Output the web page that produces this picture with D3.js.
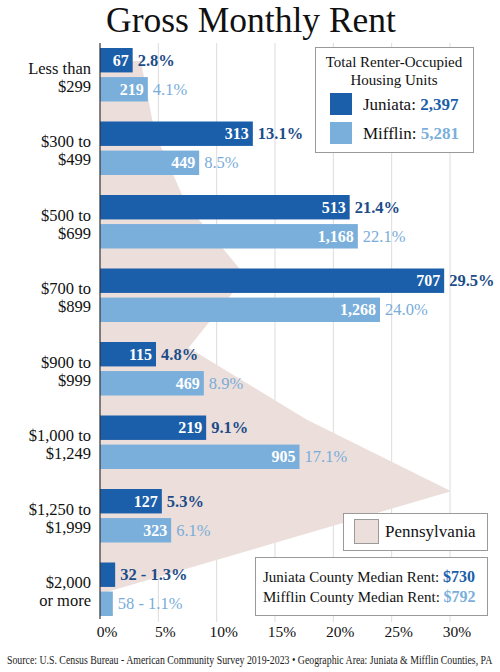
<!DOCTYPE html>
<html>
<head>
<meta charset="utf-8">
<script src="https://cdn.jsdelivr.net/npm/d3@7"></script>
<style>
  html, body { margin: 0; padding: 0; background: #fff; }
  svg { display: block; }
  text { font-family: "Liberation Serif", "DejaVu Serif", serif; }
</style>
</head>
<body>
<svg id="chart" width="500" height="672"></svg>
<script>
// ---- data ----
const categories = ["Less than|$299", "$300 to|$499", "$500 to|$699", "$700 to|$899",
                    "$900 to|$999", "$1,000 to|$1,249", "$1,250 to|$1,999", "$2,000|or more"];
const juniataCounts = [67, 313, 513, 707, 115, 219, 127, 32];
const juniataPct    = [2.8, 13.1, 21.4, 29.5, 4.8, 9.1, 5.3, 1.3];
const mifflinCounts = [219, 449, 1168, 1268, 469, 905, 323, 58];
const mifflinPct    = [4.1, 8.5, 22.1, 24.0, 8.9, 17.1, 6.1, 1.1];
const paPct         = [3.5, 4.7, 7.4, 12.5, 7.6, 17.7, 30.1, 9.1];
const xTicks = [0, 5, 10, 15, 20, 25, 30];
const totals = { Juniata: "2,397", Mifflin: "5,281" };
const medians = { Juniata: "$730", Mifflin: "$792" };

// ---- style ----
const C = {
  jun: "#1b5ea9", mif: "#7aafdc", junText: "#1d4c88", mifText: "#79acd9",
  pa: "#ecdfdb", grid: "#dcdcdc", axis: "#333", box: "#9a9a9a"
};

const svg = d3.select("#chart");
const x = d3.scaleLinear().domain([0, 30]).range([100, 450]);
const y = d3.scaleBand().domain(categories).range([38, 626]);
const ySer = d3.scaleBand().domain(["Juniata", "Mifflin"]).range([10, 63.5]).paddingInner(0.16);
const yPA = d3.scalePoint().domain(categories).range([61, 563]);

// title
svg.append("text").attr("x", 251).attr("y", 32).attr("text-anchor", "middle")
  .attr("font-size", 35.5).attr("fill", "#111").text("Gross Monthly Rent");

// gridlines
svg.append("g").selectAll("line").data(xTicks.slice(1)).join("line")
  .attr("x1", d => x(d)).attr("x2", d => x(d)).attr("y1", 43).attr("y2", 622)
  .attr("stroke", C.grid).attr("stroke-width", 1);

// Pennsylvania area
const paPts = [[0, yPA(categories[0])]]
  .concat(categories.map((c, i) => [paPct[i], yPA(c)]))
  .concat([[0, yPA(categories[categories.length - 1]) + 31]]);
svg.append("path")
  .attr("d", d3.line().x(d => x(d[0])).y(d => d[1])(paPts) + "Z")
  .attr("fill", C.pa);

// bars
const series = [
  { key: "Juniata", counts: juniataCounts, pct: juniataPct, color: C.jun, tcolor: C.junText, weight: "bold" },
  { key: "Mifflin", counts: mifflinCounts, pct: mifflinPct, color: C.mif, tcolor: C.mifText, weight: "normal" }
];
const fmt = d3.format(",");
series.forEach(s => {
  const g = svg.append("g");
  categories.forEach((c, i) => {
    const top = y(c) + ySer(s.key);
    const h = ySer.bandwidth();
    const xe = x(s.pct[i]);
    g.append("rect").attr("x", x(0)).attr("y", top).attr("width", xe - x(0)).attr("height", h)
      .attr("fill", s.color);
    const ty = top + h / 2 + 5.5;
    if (xe - x(0) > 30) {
      g.append("text").attr("x", xe - 4).attr("y", ty).attr("text-anchor", "end")
        .attr("font-size", 16).attr("font-weight", "bold").attr("fill", "#fff")
        .text(fmt(s.counts[i]));
      g.append("text").attr("x", xe + 5).attr("y", ty)
        .attr("font-size", 16.5).attr("font-weight", s.weight).attr("fill", s.tcolor)
        .text(s.pct[i].toFixed(1) + "%");
    } else {
      g.append("text").attr("x", xe + 5).attr("y", ty)
        .attr("font-size", 16.5).attr("font-weight", s.weight).attr("fill", s.tcolor)
        .text(fmt(s.counts[i]) + " - " + s.pct[i].toFixed(1) + "%");
    }
  });
});

// axis line
svg.append("line").attr("x1", x(0)).attr("x2", x(0)).attr("y1", 43).attr("y2", 619)
  .attr("stroke", C.axis).attr("stroke-width", 1.2);

// category labels
categories.forEach(c => {
  const parts = c.split("|");
  const cy = y(c) + y.bandwidth() / 2;
  parts.forEach((p, j) => {
    svg.append("text").attr("x", 91).attr("y", cy - 1 + j * 18).attr("text-anchor", "end")
      .attr("font-size", 16.5).attr("fill", "#111").text(p);
  });
});

// x tick labels
svg.append("g").selectAll("text").data(xTicks).join("text")
  .attr("x", d => x(d) + 7).attr("y", 637).attr("text-anchor", "middle")
  .attr("font-size", 15.5).attr("fill", "#111").text(d => d + "%");

// legend: totals
const lg = svg.append("g");
lg.append("rect").attr("x", 315.5).attr("y", 47.5).attr("width", 158).attr("height", 105)
  .attr("fill", "#fff").attr("stroke", C.box);
lg.append("text").attr("x", 394).attr("y", 67).attr("text-anchor", "middle")
  .attr("font-size", 15).attr("fill", "#111").text("Total Renter-Occupied");
lg.append("text").attr("x", 394).attr("y", 85).attr("text-anchor", "middle")
  .attr("font-size", 15).attr("fill", "#111").text("Housing Units");
series.forEach((s, i) => {
  const yy = 93 + i * 29;
  lg.append("rect").attr("x", 330).attr("y", yy).attr("width", 22).attr("height", 22).attr("fill", s.color);
  const t = lg.append("text").attr("x", 363).attr("y", yy + 17).attr("font-size", 17).attr("fill", "#111");
  t.append("tspan").text(s.key + ": ");
  t.append("tspan").attr("font-weight", "bold").attr("fill", s.color).text(totals[s.key]);
});

// legend: Pennsylvania
const pg = svg.append("g");
pg.append("rect").attr("x", 343.5).attr("y", 513.5).attr("width", 144).attr("height", 37)
  .attr("fill", "#fff").attr("stroke", C.box);
pg.append("rect").attr("x", 354.5).attr("y", 519.5).attr("width", 24).attr("height", 24)
  .attr("fill", C.pa).attr("stroke", C.box);
pg.append("text").attr("x", 385).attr("y", 537).attr("font-size", 17).attr("fill", "#111").text("Pennsylvania");

// median box
const mg = svg.append("g");
mg.append("rect").attr("x", 255.5).attr("y", 557.5).attr("width", 232).attr("height", 58)
  .attr("fill", "#fff").attr("stroke", C.box);
series.forEach((s, i) => {
  const t = mg.append("text").attr("x", 263).attr("y", 582 + i * 20).attr("font-size", 15).attr("fill", "#111");
  t.append("tspan").text(s.key + " County Median Rent: ");
  t.append("tspan").attr("font-weight", "bold").attr("fill", s.color).attr("font-size", 16).text(medians[s.key]);
});

// source (scaled horizontally to fit the width, like a condensed face)
const srcG = svg.append("g");
const src = srcG.append("text").attr("x", 0).attr("y", 0)
  .attr("font-family", "'Liberation Sans Narrow', 'DejaVu Sans Condensed', 'Roboto', sans-serif")
  .attr("font-size", 12).attr("fill", "#222")
  .text("Source: U.S. Census Bureau - American Community Survey 2019-2023 \u2022 Geographic Area: Juniata & Mifflin Counties, PA");
const natural = src.node().getComputedTextLength();
const k = Math.min(1, 486 / natural);
srcG.attr("transform", `translate(7,664) scale(${k},1)`);
</script>
</body>
</html>
